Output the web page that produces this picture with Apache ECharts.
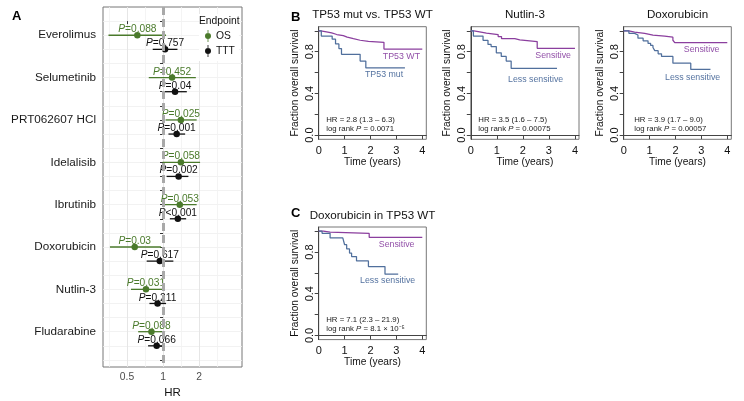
<!DOCTYPE html>
<html><head><meta charset="utf-8">
<script src="https://cdn.jsdelivr.net/npm/echarts@6/dist/echarts.min.js"></script>
<style>html,body{margin:0;padding:0;background:#fff}#c{width:744px;height:401px}</style>
</head><body><div id="c"></div>
<script>
// ---------- Panel A data (forest plot) ----------
const drugs   = ['Everolimus','Selumetinib','PRT062607 HCl','Idelalisib','Ibrutinib','Doxorubicin','Nutlin-3','Fludarabine'];
const osHR    = [0.61, 1.19, 1.41, 1.41, 1.38, 0.58, 0.72, 0.80];
const osLow   = [0.35, 0.76, 1.05, 0.99, 0.99, 0.36, 0.54, 0.62];
const osHigh  = [1.06, 1.88, 1.91, 2.04, 1.91, 0.96, 0.99, 1.04];
const osP     = ['0.088','0.452','0.025','0.058','0.053','0.03','0.031','0.088'];
const tttHR   = [1.04, 1.26, 1.30, 1.35, 1.33, 0.94, 0.90, 0.885];
const tttLow  = [0.82, 1.00, 1.11, 1.07, 1.14, 0.73, 0.77, 0.75];
const tttHigh = [1.32, 1.58, 1.53, 1.63, 1.56, 1.22, 1.06, 1.02];
const tttP    = ['0.757','0.04','0.001','0.002','<0.001','0.617','0.211','0.066'];
const hrTicks = [0.5, 1, 2];
const hrMinor = [0.354, 0.707, 1.414, 2.828];
const hrRange = [0.315, 4.57];

// ---------- Kaplan-Meier data ----------
const b1WtTime   = [0, 0.08, 0.3, 0.5, 0.7, 0.95, 1.1, 1.34, 1.6, 1.92, 2.52, 4.0];
const b1WtSurv   = [1, 0.99, 0.98, 0.965, 0.955, 0.94, 0.925, 0.91, 0.9, 0.89, 0.825, 0.825];
const b1MutTime  = [0, 0.1, 0.52, 0.65, 0.78, 0.88, 1.6, 1.82, 3.33];
const b1MutSurv  = [1, 0.95, 0.92, 0.875, 0.83, 0.775, 0.71, 0.645, 0.645];

const b2SenTime  = [0, 0.12, 0.34, 0.6, 1.05, 1.18, 1.69, 1.88, 2.55, 4.0];
const b2SenSurv  = [1, 0.99, 0.978, 0.965, 0.945, 0.925, 0.913, 0.897, 0.833, 0.833];
const b2LessTime = [0, 0.1, 0.47, 0.66, 0.78, 0.98, 1.17, 1.36, 1.55, 3.31];
const b2LessSurv = [1, 0.95, 0.91, 0.87, 0.85, 0.79, 0.755, 0.71, 0.64, 0.64];

const b3SenTime  = [0, 0.2, 0.42, 0.81, 1.13, 1.58, 1.9, 1.97, 4.0];
const b3SenSurv  = [1, 0.987, 0.976, 0.96, 0.95, 0.94, 0.91, 0.888, 0.888];
const b3LessTime = [0, 0.2, 0.42, 0.55, 0.75, 0.94, 1.04, 1.13, 1.2, 1.33, 1.46, 1.9, 2.59, 3.35];
const b3LessSurv = [1, 0.976, 0.96, 0.93, 0.905, 0.88, 0.86, 0.84, 0.81, 0.78, 0.755, 0.69, 0.63, 0.63];

const cSenTime   = [0, 0.18, 0.44, 1.95, 4.0];
const cSenSurv   = [1, 0.99, 0.978, 0.94, 0.94];
const cLessTime  = [0, 0.13, 0.44, 0.93, 1.0, 1.08, 1.19, 1.27, 1.46, 1.92, 2.56, 3.07];
const cLessSurv  = [1, 0.98, 0.935, 0.917, 0.87, 0.83, 0.79, 0.757, 0.715, 0.66, 0.587, 0.587];

const kmTitles = ['TP53 mut vs. TP53 WT', 'Nutlin-3', 'Doxorubicin', 'Doxorubicin in TP53 WT'];
const kmHR     = ['HR = 2.8 (1.3 – 6.3)', 'HR = 3.5 (1.6 – 7.5)', 'HR = 3.9 (1.7 – 9.0)', 'HR = 7.1 (2.3 – 21.9)'];
const kmP      = ['0.0071', '0.00075', '0.00057', '8.1 × 10⁻⁵'];
const timeTicks = [0, 1, 2, 3, 4];
const survTicks = [0, 0.2, 0.4, 0.6, 0.8, 1.0];
const survLabels = [0, 0.4, 0.8];

// ---------- styling ----------
const FONT = '"Liberation Sans", Arial, Helvetica, sans-serif';
const GREEN = '#4a7a2b';
const BLACK = '#111';
const PURPLE = '#8b3f9e', PURPLE_T = '#9250a8';
const BLUE = '#506f9c', BLUE_T = '#5573a0';
const L2 = Math.log2;

const rowsOS  = drugs.map((d, i) => 3 * i + 1);
const rowsTTT = drugs.map((d, i) => 3 * i + 2);
const allRows = Array.from({length: 25}, (_, i) => i);

const pText = p => p.startsWith('<') ? '{i|P}{n|' + p + '}' : '{i|P}{n|=' + p + '}';
const richFor = c => ({
  i: {fontStyle: 'italic', fontSize: 10.2, color: c, fontFamily: FONT, lineHeight: 11},
  n: {fontSize: 10.2, color: c, fontFamily: FONT, lineHeight: 11}
});

// grids: A, B1, B2, B3, C
const kmGrids = [
  {left: 318.7, top: 26.7, width: 107.6, height: 112.6},
  {left: 470.8, top: 26.7, width: 108.2, height: 112.6},
  {left: 623.7, top: 26.7, width: 107.6, height: 112.6},
  {left: 318.7, top: 227.0, width: 107.6, height: 112.6}
];
const grids = [{left: 103, top: 7, width: 139, height: 360}].concat(kmGrids).map(g => Object.assign({
  show: true, borderColor: '#777', borderWidth: 1, backgroundColor: 'transparent',
  containLabel: false, outerBoundsMode: 'none'
}, g));

const xAxes = [
  {gridIndex: 0, type: 'value', position: 'bottom', min: L2(hrRange[0]), max: L2(hrRange[1]),
   axisLine: {show: false},
   axisTick: {show: true, length: 3, lineStyle: {color: '#333'}, customValues: hrTicks.map(L2)},
   axisLabel: {show: true, customValues: hrTicks.map(L2), formatter: v => String(+Math.pow(2, v).toFixed(2)),
               fontSize: 10.3, color: '#4d4d4d', margin: 5, fontFamily: FONT},
   splitLine: {show: true, lineStyle: {color: '#e6e6e6', width: 1}},
   name: 'HR', nameLocation: 'middle', nameGap: 16, nameTextStyle: {fontSize: 11.5, color: '#111', fontFamily: FONT}},
  {gridIndex: 0, type: 'value', position: 'bottom', min: L2(hrRange[0]), max: L2(hrRange[1]),
   axisLine: {show: false}, axisLabel: {show: false},
   axisTick: {show: false, length: 0, customValues: hrMinor.map(L2)},
   splitLine: {show: true, lineStyle: {color: '#f1f1f1', width: 0.8}}}
];
const yAxes = [
  {gridIndex: 0, type: 'value', inverse: true, min: -1, max: 24.5,
   axisLine: {show: false},
   axisTick: {show: true, length: 3, lineStyle: {color: '#333'}, customValues: allRows},
   axisLabel: {show: true, customValues: rowsOS, formatter: v => drugs[Math.round((v - 1) / 3)],
               fontSize: 11.7, color: '#1a1a1a', margin: 7, fontFamily: FONT},
   splitLine: {show: true, lineStyle: {color: '#efefef', width: 0.8}}}
];
kmGrids.forEach((g, k) => {
  xAxes.push({gridIndex: k + 1, type: 'value', min: 0, max: 4.155,
    axisLine: {show: true, lineStyle: {color: '#444', width: 1}},
    axisTick: {show: true, length: 4, lineStyle: {color: '#444'}, customValues: timeTicks},
    axisLabel: {show: true, customValues: timeTicks, fontSize: 11, color: '#111', margin: 6, fontFamily: FONT},
    splitLine: {show: false},
    name: 'Time (years)', nameLocation: 'middle', nameGap: 18,
    nameTextStyle: {fontSize: 10.2, color: '#111', fontFamily: FONT}});
  yAxes.push({gridIndex: k + 1, type: 'value', min: -0.04, max: 1.04,
    axisLine: {show: true, lineStyle: {color: '#444', width: 1}},
    axisTick: {show: true, length: 4, lineStyle: {color: '#444'}, customValues: survTicks},
    axisLabel: {show: true, customValues: survLabels, rotate: 90, formatter: v => v.toFixed(1),
                fontSize: 11, color: '#111', margin: 3, fontFamily: FONT},
    splitLine: {show: false},
    name: 'Fraction overall survival', nameLocation: 'middle', nameGap: 19, nameRotate: 90,
    nameTextStyle: {fontSize: 10.2, color: '#111', fontFamily: FONT}});
});

function ciSeries(name, low, high, rows, color) {
  return {
    type: 'custom', name: name, xAxisIndex: 0, yAxisIndex: 0, z: 3, silent: true,
    data: rows.map((r, i) => [L2(low[i]), L2(high[i]), r]),
    encode: {x: [0, 1], y: 2},
    renderItem: (params, api) => {
      const a = api.coord([api.value(0), api.value(2)]);
      const b = api.coord([api.value(1), api.value(2)]);
      return {type: 'line', shape: {x1: a[0], y1: a[1], x2: b[0], y2: b[1]},
              style: {stroke: color, lineWidth: 1.3}};
    }
  };
}
function pointSeries(name, hr, rows, pv, color) {
  return {
    type: 'scatter', name: name, xAxisIndex: 0, yAxisIndex: 0, z: 4, silent: true,
    symbol: 'circle', symbolSize: 6.5, itemStyle: {color: color, opacity: 1},
    data: rows.map((r, i) => [L2(hr[i]), r]),
    label: {show: true, position: 'top', distance: -3,
            formatter: p => pText(pv[p.dataIndex]), rich: richFor(color)},
    labelLayout: {hideOverlap: false}
  };
}
function kmSeries(times, surv, k, color) {
  return {
    type: 'line', name: 'km' + k + color, xAxisIndex: k + 2, yAxisIndex: k + 1, step: 'end',
    symbol: 'none', silent: true, z: 3,
    lineStyle: {color: color, width: 1.25}, itemStyle: {color: color},
    data: times.map((t, i) => [t, surv[i]])
  };
}

const series = [
  {type: 'line', name: 'ref', xAxisIndex: 0, yAxisIndex: 0, data: [], z: 1, silent: true,
   markLine: {silent: true, symbol: ['none', 'none'], label: {show: false},
              lineStyle: {color: '#a9a9a9', type: [8, 4], width: 3},
              data: [{xAxis: L2(1)}]}},
  ciSeries('OS_ci', osLow, osHigh, rowsOS, GREEN),
  ciSeries('TTT_ci', tttLow, tttHigh, rowsTTT, BLACK),
  pointSeries('OS', osHR, rowsOS, osP, GREEN),
  pointSeries('TTT', tttHR, rowsTTT, tttP, BLACK),
  kmSeries(b1WtTime, b1WtSurv, 0, PURPLE),
  kmSeries(b1MutTime, b1MutSurv, 0, BLUE),
  kmSeries(b2SenTime, b2SenSurv, 1, PURPLE),
  kmSeries(b2LessTime, b2LessSurv, 1, BLUE),
  kmSeries(b3SenTime, b3SenSurv, 2, PURPLE),
  kmSeries(b3LessTime, b3LessSurv, 2, BLUE),
  kmSeries(cSenTime, cSenSurv, 3, PURPLE),
  kmSeries(cLessTime, cLessSurv, 3, BLUE)
];

// ---------- text annotations ----------
const G = [];
function txt(text, x, y, opts) {
  G.push(Object.assign({type: 'text', x: x, y: y, z: 100, silent: true,
    style: Object.assign({text: text, fontFamily: FONT, fontSize: 11, fill: '#111',
                          align: 'left', verticalAlign: 'middle'}, opts || {})}));
}
txt('A', 12, 16, {fontWeight: 'bold', fontSize: 13, fill: '#000'});
txt('B', 291, 17, {fontWeight: 'bold', fontSize: 13, fill: '#000'});
txt('C', 291, 213, {fontWeight: 'bold', fontSize: 13, fill: '#000'});
txt('Endpoint', 199, 21, {fontSize: 10.3, fill: '#111'});
kmGrids.forEach((g, k) => {
  txt(kmTitles[k], g.left + g.width / 2, g.top - 11.5, {fontSize: 11.6, align: 'center', fill: '#111'});
  txt(kmHR[k], g.left + (k === 2 ? 10.5 : 7.5), g.top + 93.3, {fontSize: 7.8, fill: '#222'});
  G.push({type: 'text', x: g.left + (k === 2 ? 10.5 : 7.5), y: g.top + 101.8, z: 100, silent: true,
    style: {text: 'log rank {i|P} = ' + kmP[k], fontFamily: FONT, fontSize: 7.8, fill: '#222',
            align: 'left', verticalAlign: 'middle',
            rich: {i: {fontStyle: 'italic', fontSize: 7.8, fontFamily: FONT, fill: '#222'}}}});
});
txt('TP53 WT', 420, 57, {fontSize: 8.8, fill: PURPLE_T, align: 'right'});
txt('TP53 mut', 365, 75, {fontSize: 8.8, fill: BLUE_T});
txt('Sensitive', 571, 56, {fontSize: 8.8, fill: PURPLE_T, align: 'right'});
txt('Less sensitive', 508, 79.3, {fontSize: 8.8, fill: BLUE_T});
txt('Sensitive', 719.5, 49.3, {fontSize: 8.8, fill: PURPLE_T, align: 'right'});
txt('Less sensitive', 665, 77.3, {fontSize: 8.8, fill: BLUE_T});
txt('Sensitive', 414.5, 244.3, {fontSize: 8.8, fill: PURPLE_T, align: 'right'});
txt('Less sensitive', 360, 281, {fontSize: 8.8, fill: BLUE_T});

const chart = echarts.init(document.getElementById('c'), null, {renderer: 'canvas'});
chart.setOption({
  animation: false,
  backgroundColor: '#fff',
  textStyle: {fontFamily: FONT},
  grid: grids,
  xAxis: xAxes,
  yAxis: yAxes,
  legend: {
    data: ['OS', 'TTT'], orient: 'vertical', left: 199, top: 14,
    padding: [16, 4, 4, 6], itemWidth: 8, itemHeight: 12, itemGap: 3,
    backgroundColor: '#fff', selectedMode: false,
    icon: 'path://M2.6,0H3.4V12H2.6Z M3,3A3,3 0 1,1 3,9A3,3 0 1,1 3,3Z',
    textStyle: {fontSize: 10.3, color: '#111', fontFamily: FONT, padding: [0, 0, 0, -1]}
  },
  graphic: {elements: G},
  series: series
});
</script>
</body></html>
